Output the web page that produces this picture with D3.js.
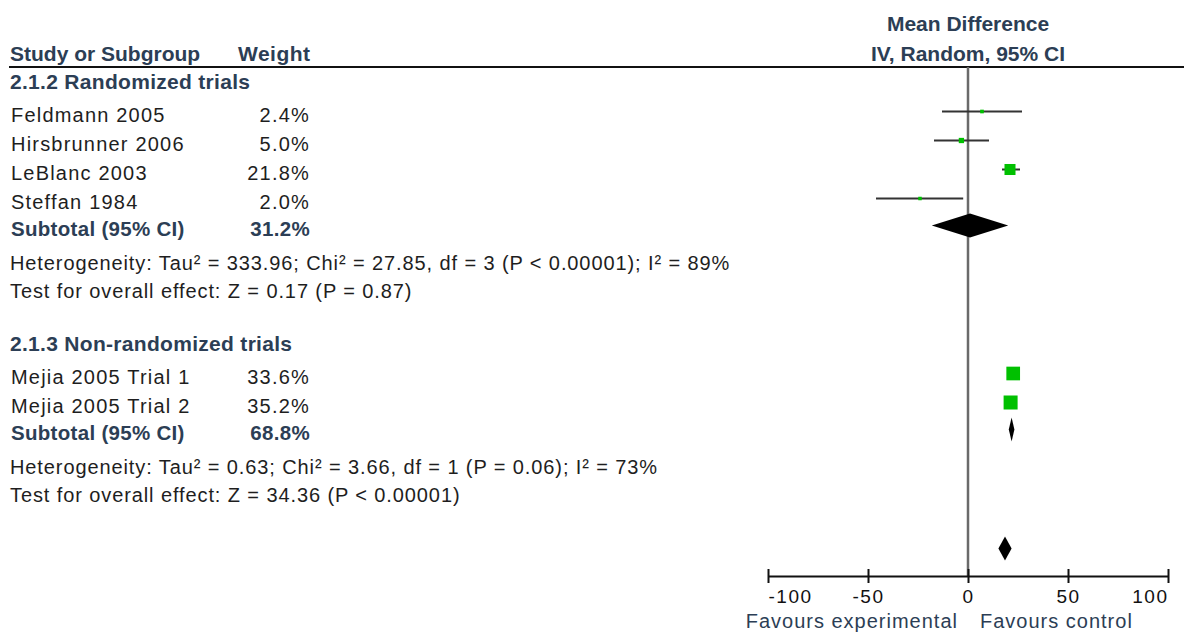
<!DOCTYPE html>
<html>
<head>
<meta charset="utf-8">
<script src="https://cdn.jsdelivr.net/npm/d3@7/dist/d3.min.js"></script>
<style>
  body { margin: 0; background: #fff; }
  svg { display: block; font-family: "Liberation Sans", Arial, sans-serif; }
</style>
</head>
<body>
<div id="chart"></div>
<script>
// ---- data ----
const groupNames = ["2.1.2 Randomized trials", "2.1.3 Non-randomized trials"];
const studyNames = ["Feldmann 2005", "Hirsbrunner 2006", "LeBlanc 2003", "Steffan 1984",
                    "Mejia 2005 Trial 1", "Mejia 2005 Trial 2"];
const studyGroup = [0, 0, 0, 0, 1, 1];
const studyWeight = [2.4, 5.0, 21.8, 2.0, 33.6, 35.2];
const studyMean = [7, -3.3, 21, -24, 22.6, 21.3];
const studyLower = [-13, -17, 17, -46, 21.6, 20.3];
const studyUpper = [27, 10.5, 26, -2.4, 23.6, 22.3];
const subtotalWeight = [31.2, 68.8];
const subtotalMean = [1.0, 21.8];
const subtotalLower = [-18.1, 20.4];
const subtotalUpper = [20.1, 23.2];
const heterogeneity = [
  "Heterogeneity: Tau\u00b2 = 333.96; Chi\u00b2 = 27.85, df = 3 (P < 0.00001); I\u00b2 = 89%",
  "Heterogeneity: Tau\u00b2 = 0.63; Chi\u00b2 = 3.66, df = 1 (P = 0.06); I\u00b2 = 73%"
];
const overallTests = [
  "Test for overall effect: Z = 0.17 (P = 0.87)",
  "Test for overall effect: Z = 34.36 (P < 0.00001)"
];
const overallMean = 18.5, overallLower = 15.2, overallUpper = 21.8;
const axisTicks = [-100, -50, 0, 50, 100];

// ---- layout ----
const width = 1184, height = 634;
const headColor = "#2c3e55";
const textColor = "#1e1e1e";
const gaps = { heading: 53, study: 29, studyFirst: 33, subtotal: 27, het: 34, test: 28, overall: 57 };

const svg = d3.select("#chart").append("svg")
  .attr("width", width)
  .attr("height", height);

const x = d3.scaleLinear().domain([-100, 100]).range([768, 1168]);
const boxSize = d3.scaleSqrt().domain([0, 35.2]).range([0, 14]);

// build rows
const rows = [];
let y = 89;
groupNames.forEach((g, gi) => {
  if (gi > 0) y += gaps.heading;
  rows.push({ type: "heading", y: y, label: g });
  let first = true;
  studyNames.forEach((s, i) => {
    if (studyGroup[i] !== gi) return;
    y += first ? gaps.studyFirst : gaps.study;
    first = false;
    rows.push({ type: "study", y: y, label: s, w: studyWeight[i],
      m: studyMean[i], lo: studyLower[i], hi: studyUpper[i] });
  });
  y += gaps.subtotal;
  rows.push({ type: "subtotal", y: y, label: "Subtotal (95% CI)", w: subtotalWeight[gi],
    m: subtotalMean[gi], lo: subtotalLower[gi], hi: subtotalUpper[gi] });
  y += gaps.het;
  rows.push({ type: "het", y: y, label: heterogeneity[gi] });
  y += gaps.test;
  rows.push({ type: "test", y: y, label: overallTests[gi] });
});
y += gaps.overall;
rows.push({ type: "overall", y: y, m: overallMean, lo: overallLower, hi: overallUpper });

const markY = d => d.y - 10.5;
const axisY = 576, ruleY = 67;

// header
svg.append("text").attr("x", 10).attr("y", 61)
  .attr("font-size", 21).attr("font-weight", "bold").attr("fill", headColor)
  .text("Study or Subgroup");
svg.append("text").attr("x", 238).attr("y", 61)
  .attr("font-size", 21).attr("font-weight", "bold").attr("letter-spacing", 0.5).attr("fill", headColor)
  .text("Weight");
svg.append("text").attr("x", x(0)).attr("y", 31).attr("text-anchor", "middle")
  .attr("font-size", 21).attr("font-weight", "bold").attr("fill", headColor)
  .text("Mean Difference");
svg.append("text").attr("x", x(0)).attr("y", 61).attr("text-anchor", "middle")
  .attr("font-size", 21).attr("font-weight", "bold").attr("fill", headColor)
  .text("IV, Random, 95% CI");
svg.append("line").attr("x1", 9).attr("x2", width).attr("y1", ruleY).attr("y2", ruleY)
  .attr("stroke", "#111").attr("stroke-width", 2);

// zero line
svg.append("line").attr("x1", x(0)).attr("x2", x(0)).attr("y1", ruleY).attr("y2", axisY)
  .attr("stroke", "#6a6a6a").attr("stroke-width", 2.5);

// left column text
const labels = svg.append("g");
rows.filter(d => d.label).forEach(d => {
  const t = labels.append("text").attr("x", 10).attr("y", d.y).text(d.label);
  if (d.type === "heading") {
    t.attr("font-size", 21).attr("font-weight", "bold").attr("letter-spacing", 0.3).attr("fill", headColor);
  } else if (d.type === "subtotal") {
    t.attr("x", 11).attr("font-size", 20.5).attr("font-weight", "bold").attr("letter-spacing", 0.3)
      .attr("fill", headColor);
  } else if (d.type === "study") {
    t.attr("x", 11).attr("font-size", 20).attr("letter-spacing", 1.2).attr("fill", textColor);
  } else {
    t.attr("font-size", 20).attr("letter-spacing", 0.9).attr("fill", textColor);
  }
  if (d.w !== undefined) {
    labels.append("text").attr("x", 310).attr("y", d.y)
      .attr("text-anchor", "end")
      .attr("font-size", d.type === "subtotal" ? 20.5 : 20)
      .attr("font-weight", d.type === "subtotal" ? "bold" : null)
      .attr("letter-spacing", d.type === "subtotal" ? 0.3 : 1.2)
      .attr("fill", d.type === "subtotal" ? headColor : textColor)
      .text(d.w.toFixed(1) + "%");
  }
});

// CI lines and boxes
const studies = rows.filter(d => d.type === "study");
svg.append("g").selectAll("line").data(studies).join("line")
  .attr("x1", d => x(d.lo)).attr("x2", d => x(d.hi))
  .attr("y1", markY).attr("y2", markY)
  .attr("stroke", "#333").attr("stroke-width", 2);
svg.append("g").selectAll("rect").data(studies).join("rect")
  .attr("x", d => x(d.m) - Math.max(boxSize(d.w), 3.5) / 2)
  .attr("y", d => markY(d) - Math.max(boxSize(d.w), 3.5) / 2)
  .attr("width", d => Math.max(boxSize(d.w), 3.5))
  .attr("height", d => Math.max(boxSize(d.w), 3.5))
  .attr("fill", "#00c000");

// diamonds
const diamonds = rows.filter(d => d.type === "subtotal" || d.type === "overall");
svg.append("g").selectAll("path").data(diamonds).join("path")
  .attr("d", d => {
    const cy = markY(d), h = 12;
    return `M${x(d.lo)},${cy}L${x(d.m)},${cy - h}L${x(d.hi)},${cy}L${x(d.m)},${cy + h}Z`;
  })
  .attr("fill", "#000");

// axis
const axis = svg.append("g")
  .attr("transform", `translate(0,${axisY})`)
  .call(d3.axisBottom(x).tickValues(axisTicks).tickSize(7).tickSizeOuter(0)
    .tickFormat(d => String(d)));
axis.select(".domain").attr("stroke", "#111").attr("stroke-width", 2);
axis.selectAll(".tick line").attr("y1", -7).attr("y2", 7)
  .attr("stroke", "#111").attr("stroke-width", 2);
axis.selectAll(".tick text")
  .attr("y", 27).attr("dy", 0)
  .attr("font-family", "Liberation Sans, Arial, sans-serif")
  .attr("font-size", 19).attr("letter-spacing", 1.5).attr("fill", "#111")
  .attr("text-anchor", (d, i) => i === 0 ? "start" : i === axisTicks.length - 1 ? "end" : "middle");

svg.append("text").attr("x", 958).attr("y", 628).attr("text-anchor", "end")
  .attr("font-size", 20).attr("letter-spacing", 1).attr("fill", headColor)
  .text("Favours experimental");
svg.append("text").attr("x", 980).attr("y", 628)
  .attr("font-size", 20).attr("letter-spacing", 1).attr("fill", headColor)
  .text("Favours control");
</script>
</body>
</html>
